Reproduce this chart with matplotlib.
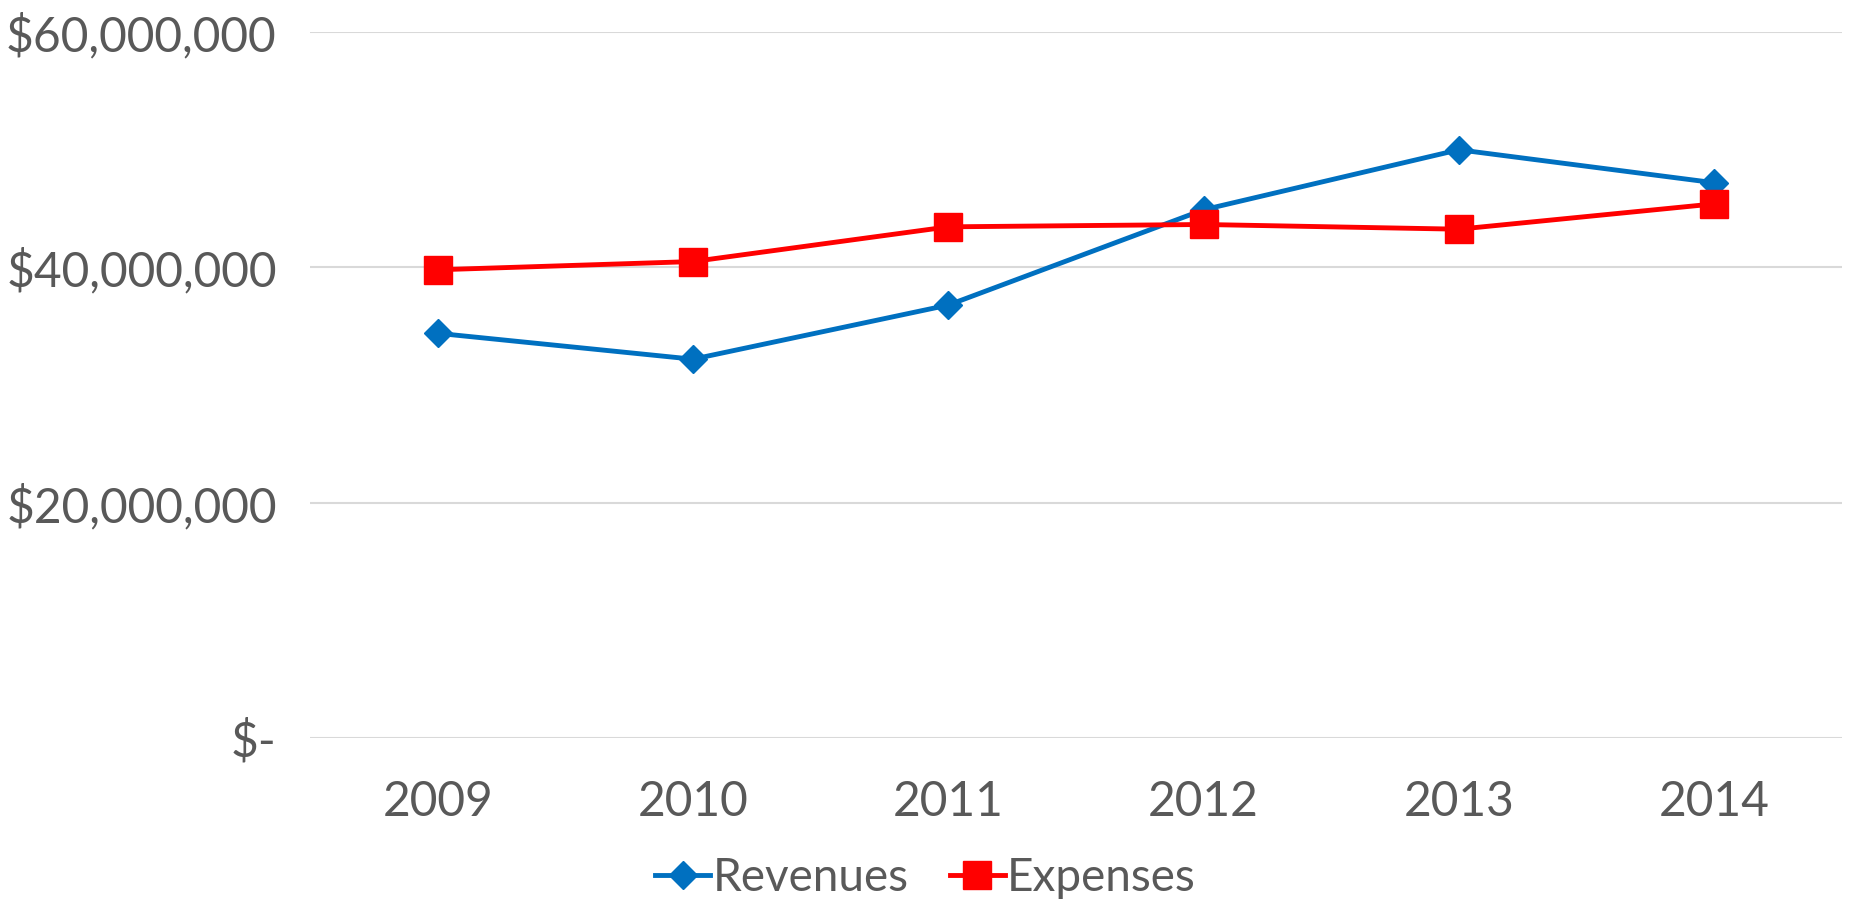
import matplotlib
matplotlib.use("Agg")
import matplotlib.pyplot as plt
from matplotlib.ticker import FuncFormatter, MultipleLocator

# data (dollars)
years = ["2009", "2010", "2011", "2012", "2013", "2014"]
revenues = [34_400_000, 32_200_000, 36_800_000, 44_900_000, 50_000_000, 47_200_000]
expenses = [39_800_000, 40_500_000, 43_450_000, 43_650_000, 43_250_000, 45_400_000]

BLUE = "#0070C0"
RED = "#FF0000"
TEXT = "#595959"
GRID = "#D9D9D9"

plt.rcParams["font.family"] = ["Lato", "DejaVu Sans"]


def money(v, _pos):
    if v == 0:
        return "$-"
    return f"${v:,.0f}"


fig = plt.figure(figsize=(18.51, 9.05), dpi=100)
ax = fig.add_axes([0.1675, 0.1845, 0.8275, 0.78])

x = range(len(years))
ax.plot(x, revenues, color=BLUE, lw=3.5, marker="D", ms=14.5,
        label="Revenues", zorder=3)
ax.plot(x, expenses, color=RED, lw=3.5, marker="s", ms=19.5,
        label="Expenses", zorder=4)

ax.set_xlim(-0.5, len(years) - 0.5)
ax.set_ylim(0, 60_000_000)
ax.yaxis.set_major_locator(MultipleLocator(20_000_000))
ax.yaxis.set_major_formatter(FuncFormatter(money))
ax.set_xticks(list(x))
ax.set_xticklabels(years)

ax.grid(axis="y", color=GRID, lw=1.5)
ax.set_axisbelow(True)
for s in ax.spines.values():
    s.set_visible(False)
ax.tick_params(length=0, labelsize=34.5, colors=TEXT)
ax.tick_params(axis="y", pad=24)
ax.tick_params(axis="x", pad=30)

# legend sits centred under the axis labels
fig.legend(loc="center", bbox_to_anchor=(0.5, 0.03), ncol=2,
           frameon=False, fontsize=33, labelcolor=TEXT,
           handlelength=1.2, handletextpad=0.05, columnspacing=0.9)

fig.savefig("out.png", dpi=100, facecolor="white")
